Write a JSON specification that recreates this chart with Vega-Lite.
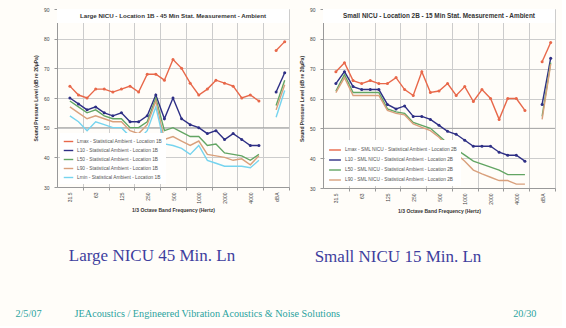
{
"$schema": "https://vega.github.io/schema/vega-lite/v6.json",
"background": "#fffdf9",
"padding": {"left": 15, "top": 7, "right": 6, "bottom": 6},
"spacing": 9,
"resolve": {"scale": {"color": "independent"}, "legend": {"color": "independent"}},
"title": {"text": "2/5/07\u00a0\u00a0\u00a0\u00a0\u00a0\u00a0\u00a0\u00a0\u00a0\u00a0\u00a0\u00a0\u00a0JEAcoustics / Engineered Vibration Acoustics & Noise Solutions\u00a0\u00a0\u00a0\u00a0\u00a0\u00a0\u00a0\u00a0\u00a0\u00a0\u00a0\u00a0\u00a0\u00a0\u00a0\u00a0\u00a0\u00a0\u00a0\u00a0\u00a0\u00a0\u00a0\u00a0\u00a0\u00a0\u00a0\u00a0\u00a0\u00a0\u00a0\u00a0\u00a0\u00a0\u00a0\u00a0\u00a0\u00a0\u00a0\u00a0\u00a0\u00a0\u00a0\u00a0\u00a0\u00a0\u00a0\u00a0\u00a0\u00a0\u00a0\u00a0\u00a0\u00a0\u00a0\u00a0\u00a0\u00a0\u00a0\u00a0\u00a0\u00a0\u00a0\u00a0\u00a0\u00a0\u00a0\u00a020/30", "orient": "bottom", "anchor": "start", "frame": "bounds", "offset": 44, "dx": -18, "font": "Liberation Serif", "fontSize": 10.2, "fontWeight": "normal", "color": "#2aa39e"},
"datasets": {
"large": [
{"series":"Lmax","kind":"band","i":0,"db":64},{"series":"Lmax","kind":"band","i":1,"db":61},{"series":"Lmax","kind":"band","i":2,"db":60},{"series":"Lmax","kind":"band","i":3,"db":63},{"series":"Lmax","kind":"band","i":4,"db":63},{"series":"Lmax","kind":"band","i":5,"db":62},{"series":"Lmax","kind":"band","i":6,"db":63},{"series":"Lmax","kind":"band","i":7,"db":64},{"series":"Lmax","kind":"band","i":8,"db":62},{"series":"Lmax","kind":"band","i":9,"db":68},{"series":"Lmax","kind":"band","i":10,"db":68},{"series":"Lmax","kind":"band","i":11,"db":66},{"series":"Lmax","kind":"band","i":12,"db":73},{"series":"Lmax","kind":"band","i":13,"db":70},{"series":"Lmax","kind":"band","i":14,"db":65},{"series":"Lmax","kind":"band","i":15,"db":61},{"series":"Lmax","kind":"band","i":16,"db":63},{"series":"Lmax","kind":"band","i":17,"db":66},{"series":"Lmax","kind":"band","i":18,"db":65},{"series":"Lmax","kind":"band","i":19,"db":64},{"series":"Lmax","kind":"band","i":20,"db":60},{"series":"Lmax","kind":"band","i":21,"db":61},{"series":"Lmax","kind":"band","i":22,"db":59},{"series":"Lmax","kind":"overall","i":24,"db":76},{"series":"Lmax","kind":"overall","i":25,"db":79},
{"series":"L10","kind":"band","i":0,"db":60},{"series":"L10","kind":"band","i":1,"db":58},{"series":"L10","kind":"band","i":2,"db":56},{"series":"L10","kind":"band","i":3,"db":57},{"series":"L10","kind":"band","i":4,"db":55},{"series":"L10","kind":"band","i":5,"db":54},{"series":"L10","kind":"band","i":6,"db":55},{"series":"L10","kind":"band","i":7,"db":52},{"series":"L10","kind":"band","i":8,"db":52},{"series":"L10","kind":"band","i":9,"db":54},{"series":"L10","kind":"band","i":10,"db":61},{"series":"L10","kind":"band","i":11,"db":53},{"series":"L10","kind":"band","i":12,"db":60},{"series":"L10","kind":"band","i":13,"db":53},{"series":"L10","kind":"band","i":14,"db":51},{"series":"L10","kind":"band","i":15,"db":50},{"series":"L10","kind":"band","i":16,"db":48},{"series":"L10","kind":"band","i":17,"db":49},{"series":"L10","kind":"band","i":18,"db":46},{"series":"L10","kind":"band","i":19,"db":48},{"series":"L10","kind":"band","i":20,"db":46},{"series":"L10","kind":"band","i":21,"db":44},{"series":"L10","kind":"band","i":22,"db":44},{"series":"L10","kind":"overall","i":24,"db":62},{"series":"L10","kind":"overall","i":25,"db":68.5},
{"series":"L50","kind":"band","i":0,"db":59},{"series":"L50","kind":"band","i":1,"db":57},{"series":"L50","kind":"band","i":2,"db":55},{"series":"L50","kind":"band","i":3,"db":56},{"series":"L50","kind":"band","i":4,"db":54},{"series":"L50","kind":"band","i":5,"db":53},{"series":"L50","kind":"band","i":6,"db":53},{"series":"L50","kind":"band","i":7,"db":50},{"series":"L50","kind":"band","i":8,"db":50},{"series":"L50","kind":"band","i":9,"db":52},{"series":"L50","kind":"band","i":10,"db":60},{"series":"L50","kind":"band","i":11,"db":49},{"series":"L50","kind":"band","i":12,"db":50},{"series":"L50","kind":"band","i":13,"db":48.5},{"series":"L50","kind":"band","i":14,"db":47},{"series":"L50","kind":"band","i":15,"db":47},{"series":"L50","kind":"band","i":16,"db":44},{"series":"L50","kind":"band","i":17,"db":44.5},{"series":"L50","kind":"band","i":18,"db":41.5},{"series":"L50","kind":"band","i":19,"db":41},{"series":"L50","kind":"band","i":20,"db":40.5},{"series":"L50","kind":"band","i":21,"db":39},{"series":"L50","kind":"band","i":22,"db":41},{"series":"L50","kind":"overall","i":24,"db":57.5},{"series":"L50","kind":"overall","i":25,"db":66},
{"series":"L90","kind":"band","i":0,"db":57},{"series":"L90","kind":"band","i":1,"db":55},{"series":"L90","kind":"band","i":2,"db":53},{"series":"L90","kind":"band","i":3,"db":54},{"series":"L90","kind":"band","i":4,"db":53},{"series":"L90","kind":"band","i":5,"db":52},{"series":"L90","kind":"band","i":6,"db":52},{"series":"L90","kind":"band","i":7,"db":49},{"series":"L90","kind":"band","i":8,"db":48},{"series":"L90","kind":"band","i":9,"db":51},{"series":"L90","kind":"band","i":10,"db":59},{"series":"L90","kind":"band","i":11,"db":46},{"series":"L90","kind":"band","i":12,"db":47},{"series":"L90","kind":"band","i":13,"db":45.5},{"series":"L90","kind":"band","i":14,"db":44},{"series":"L90","kind":"band","i":15,"db":45.5},{"series":"L90","kind":"band","i":16,"db":41},{"series":"L90","kind":"band","i":17,"db":40.5},{"series":"L90","kind":"band","i":18,"db":40},{"series":"L90","kind":"band","i":19,"db":39},{"series":"L90","kind":"band","i":20,"db":39.5},{"series":"L90","kind":"band","i":21,"db":37.5},{"series":"L90","kind":"band","i":22,"db":40.5},{"series":"L90","kind":"overall","i":24,"db":56},{"series":"L90","kind":"overall","i":25,"db":64.5},
{"series":"Lmin","kind":"band","i":0,"db":54},{"series":"Lmin","kind":"band","i":1,"db":52},{"series":"Lmin","kind":"band","i":2,"db":49},{"series":"Lmin","kind":"band","i":3,"db":52},{"series":"Lmin","kind":"band","i":4,"db":51},{"series":"Lmin","kind":"band","i":5,"db":50},{"series":"Lmin","kind":"band","i":6,"db":50},{"series":"Lmin","kind":"band","i":7,"db":47},{"series":"Lmin","kind":"band","i":8,"db":46},{"series":"Lmin","kind":"band","i":9,"db":49},{"series":"Lmin","kind":"band","i":10,"db":57},{"series":"Lmin","kind":"band","i":11,"db":44.5},{"series":"Lmin","kind":"band","i":12,"db":44},{"series":"Lmin","kind":"band","i":13,"db":43},{"series":"Lmin","kind":"band","i":14,"db":41},{"series":"Lmin","kind":"band","i":15,"db":44},{"series":"Lmin","kind":"band","i":16,"db":39},{"series":"Lmin","kind":"band","i":17,"db":38},{"series":"Lmin","kind":"band","i":18,"db":37},{"series":"Lmin","kind":"band","i":19,"db":37},{"series":"Lmin","kind":"band","i":20,"db":37},{"series":"Lmin","kind":"band","i":21,"db":36.5},{"series":"Lmin","kind":"band","i":22,"db":39},{"series":"Lmin","kind":"overall","i":24,"db":53.5},{"series":"Lmin","kind":"overall","i":25,"db":62.5}
],
"small": [
{"series":"Lmax","kind":"band","i":0,"db":69},{"series":"Lmax","kind":"band","i":1,"db":72},{"series":"Lmax","kind":"band","i":2,"db":66},{"series":"Lmax","kind":"band","i":3,"db":65},{"series":"Lmax","kind":"band","i":4,"db":66},{"series":"Lmax","kind":"band","i":5,"db":65},{"series":"Lmax","kind":"band","i":6,"db":65},{"series":"Lmax","kind":"band","i":7,"db":67},{"series":"Lmax","kind":"band","i":8,"db":63},{"series":"Lmax","kind":"band","i":9,"db":61},{"series":"Lmax","kind":"band","i":10,"db":69},{"series":"Lmax","kind":"band","i":11,"db":62},{"series":"Lmax","kind":"band","i":12,"db":62.5},{"series":"Lmax","kind":"band","i":13,"db":65},{"series":"Lmax","kind":"band","i":14,"db":61},{"series":"Lmax","kind":"band","i":15,"db":64},{"series":"Lmax","kind":"band","i":16,"db":59},{"series":"Lmax","kind":"band","i":17,"db":63},{"series":"Lmax","kind":"band","i":18,"db":60},{"series":"Lmax","kind":"band","i":19,"db":53},{"series":"Lmax","kind":"band","i":20,"db":60},{"series":"Lmax","kind":"band","i":21,"db":60},{"series":"Lmax","kind":"band","i":22,"db":56},{"series":"Lmax","kind":"overall","i":24,"db":72.3},{"series":"Lmax","kind":"overall","i":25,"db":78.8},
{"series":"L10","kind":"band","i":0,"db":65},{"series":"L10","kind":"band","i":1,"db":69},{"series":"L10","kind":"band","i":2,"db":64},{"series":"L10","kind":"band","i":3,"db":63},{"series":"L10","kind":"band","i":4,"db":63},{"series":"L10","kind":"band","i":5,"db":63},{"series":"L10","kind":"band","i":6,"db":58},{"series":"L10","kind":"band","i":7,"db":56.5},{"series":"L10","kind":"band","i":8,"db":57.5},{"series":"L10","kind":"band","i":9,"db":54},{"series":"L10","kind":"band","i":10,"db":54},{"series":"L10","kind":"band","i":11,"db":53},{"series":"L10","kind":"band","i":12,"db":51},{"series":"L10","kind":"band","i":13,"db":49},{"series":"L10","kind":"band","i":14,"db":48},{"series":"L10","kind":"band","i":15,"db":46},{"series":"L10","kind":"band","i":16,"db":44},{"series":"L10","kind":"band","i":17,"db":44},{"series":"L10","kind":"band","i":18,"db":44},{"series":"L10","kind":"band","i":19,"db":42},{"series":"L10","kind":"band","i":20,"db":41},{"series":"L10","kind":"band","i":21,"db":41},{"series":"L10","kind":"band","i":22,"db":39},{"series":"L10","kind":"overall","i":24,"db":58},{"series":"L10","kind":"overall","i":25,"db":73.5},
{"series":"L50","kind":"band","i":0,"db":62.5},{"series":"L50","kind":"band","i":1,"db":68},{"series":"L50","kind":"band","i":2,"db":62},{"series":"L50","kind":"band","i":3,"db":62},{"series":"L50","kind":"band","i":4,"db":62},{"series":"L50","kind":"band","i":5,"db":62},{"series":"L50","kind":"band","i":6,"db":56.5},{"series":"L50","kind":"band","i":7,"db":55.5},{"series":"L50","kind":"band","i":8,"db":55},{"series":"L50","kind":"band","i":9,"db":52},{"series":"L50","kind":"band","i":10,"db":51},{"series":"L50","kind":"band","i":11,"db":50},{"series":"L50","kind":"band","i":12,"db":47.5},{"series":"L50","kind":"band","i":13,"db":45},{"series":"L50","kind":"band","i":14,"db":43},{"series":"L50","kind":"band","i":15,"db":41},{"series":"L50","kind":"band","i":16,"db":39},{"series":"L50","kind":"band","i":17,"db":38},{"series":"L50","kind":"band","i":18,"db":37},{"series":"L50","kind":"band","i":19,"db":36},{"series":"L50","kind":"band","i":20,"db":34.5},{"series":"L50","kind":"band","i":21,"db":34.5},{"series":"L50","kind":"band","i":22,"db":34.5},{"series":"L50","kind":"overall","i":24,"db":54},{"series":"L50","kind":"overall","i":25,"db":72},
{"series":"L90","kind":"band","i":0,"db":62},{"series":"L90","kind":"band","i":1,"db":67},{"series":"L90","kind":"band","i":2,"db":61},{"series":"L90","kind":"band","i":3,"db":61},{"series":"L90","kind":"band","i":4,"db":61},{"series":"L90","kind":"band","i":5,"db":61},{"series":"L90","kind":"band","i":6,"db":56},{"series":"L90","kind":"band","i":7,"db":55},{"series":"L90","kind":"band","i":8,"db":54.5},{"series":"L90","kind":"band","i":9,"db":51.5},{"series":"L90","kind":"band","i":10,"db":50.3},{"series":"L90","kind":"band","i":11,"db":49.2},{"series":"L90","kind":"band","i":12,"db":47},{"series":"L90","kind":"band","i":13,"db":44},{"series":"L90","kind":"band","i":14,"db":41.5},{"series":"L90","kind":"band","i":15,"db":39},{"series":"L90","kind":"band","i":16,"db":36},{"series":"L90","kind":"band","i":17,"db":34.7},{"series":"L90","kind":"band","i":18,"db":33.6},{"series":"L90","kind":"band","i":19,"db":32.5},{"series":"L90","kind":"band","i":20,"db":32.5},{"series":"L90","kind":"band","i":21,"db":31.3},{"series":"L90","kind":"band","i":22,"db":31.3},{"series":"L90","kind":"overall","i":24,"db":53},{"series":"L90","kind":"overall","i":25,"db":71.5}
]
},
"hconcat": [
{
"width": 232, "height": 178,
"title": {"text": "Large NICU 45 Min. Ln", "orient": "bottom", "anchor": "middle", "frame": "group", "dx": -21, "offset": 36, "font": "Liberation Serif", "fontSize": 17, "fontWeight": "normal", "color": "#3e3e9e"},
"layer": [
{"data": {"values": [{}]}, "mark": {"type": "rect", "fill": "white"}, "encoding": {"x": {"datum": -1.5, "type": "quantitative"}, "x2": {"datum": 25.5}, "y": {"datum": 90, "type": "quantitative"}, "y2": {"datum": 85.3}}},
{"data": {"values": [{}]}, "mark": {"type": "rule", "color": "#9a9a9a", "strokeWidth": 0.8}, "encoding": {"y": {"datum": 50, "type": "quantitative"}}},
{"data": {"name": "large"}, "mark": {"type": "line", "strokeWidth": 1.4},
 "encoding": {
  "x": {"field": "i", "type": "quantitative", "scale": {"domain": [-1.5, 25.5], "nice": false, "zero": false},
        "axis": {"values": [0,3,6,9,12,15,18,21,24], "tickCount": 40, "labelExpr": "datum.value == 0 ? '31.5' : datum.value == 3 ? '63' : datum.value == 6 ? '125' : datum.value == 9 ? '250' : datum.value == 12 ? '500' : datum.value == 15 ? '1000' : datum.value == 18 ? '2000' : datum.value == 21 ? '4000' : 'dBA'", "labelAngle": -90, "labelAlign": "right", "labelBaseline": "middle", "labelOverlap": false, "tickOffset": 12.9, "labelOffset": -12.9, "title": "1/3 Octave Band Frequency (Hertz)", "grid": true}},
  "y": {"field": "db", "type": "quantitative", "scale": {"domain": [30, 90], "nice": false, "zero": false},
        "axis": {"values": [30,40,50,60,70,80,90], "tickCount": 40, "title": "Sound Pressure Level (dB re 20μPa)", "grid": true, "labelPadding": 5, "titlePadding": 5}},
  "color": {"field": "series", "type": "nominal", "scale": {"domain": ["Lmax","L10","L50","L90","Lmin"], "range": ["#e8684a","#2e2f85","#62a563","#d9a07c","#76d4ef"]},
            "legend": {"orient": "bottom-left", "offset": 3, "title": null, "labelExpr": "datum.label + ' - Statistical Ambient - Location 1B'", "symbolSize": 90}},
  "detail": {"field": "kind"}
 }},
{"data": {"name": "large"}, "transform": [{"filter": {"field": "series", "oneOf": ["Lmax", "L10"]}}], "mark": {"type": "point", "filled": true, "size": 9, "opacity": 1},
 "encoding": {"x": {"field": "i", "type": "quantitative"}, "y": {"field": "db", "type": "quantitative"}, "color": {"field": "series", "type": "nominal"}}},
{"data": {"values": [{}]}, "mark": {"type": "text", "text": "Large NICU - Location 1B - 45 Min Stat. Measurement - Ambient", "font": "Liberation Sans", "fontSize": 6.2, "fontWeight": "bold", "color": "#333333"}, "encoding": {"x": {"datum": 12, "type": "quantitative"}, "y": {"datum": 87.7, "type": "quantitative"}}}
]
},
{
"width": 232, "height": 179,
"title": {"text": "Small NICU 15 Min. Ln", "orient": "bottom", "anchor": "middle", "frame": "group", "dx": -41, "offset": 36, "font": "Liberation Serif", "fontSize": 17, "fontWeight": "normal", "color": "#3e3e9e"},
"layer": [
{"data": {"values": [{}]}, "mark": {"type": "rect", "fill": "white"}, "encoding": {"x": {"datum": -1.5, "type": "quantitative"}, "x2": {"datum": 25.5}, "y": {"datum": 90, "type": "quantitative"}, "y2": {"datum": 85.3}}},
{"data": {"values": [{}]}, "mark": {"type": "rule", "color": "#9a9a9a", "strokeWidth": 0.8}, "encoding": {"y": {"datum": 50, "type": "quantitative"}}},
{"data": {"name": "small"}, "mark": {"type": "line", "strokeWidth": 1.4},
 "encoding": {
  "x": {"field": "i", "type": "quantitative", "scale": {"domain": [-1.5, 25.5], "nice": false, "zero": false},
        "axis": {"values": [0,3,6,9,12,15,18,21,24], "tickCount": 40, "labelExpr": "datum.value == 0 ? '31.5' : datum.value == 3 ? '63' : datum.value == 6 ? '125' : datum.value == 9 ? '250' : datum.value == 12 ? '500' : datum.value == 15 ? '1000' : datum.value == 18 ? '2000' : datum.value == 21 ? '4000' : 'dBA'", "labelAngle": -90, "labelAlign": "right", "labelBaseline": "middle", "labelOverlap": false, "tickOffset": 12.9, "labelOffset": -12.9, "title": "1/3 Octave Band Frequency (Hertz)", "grid": true}},
  "y": {"field": "db", "type": "quantitative", "scale": {"domain": [30, 90], "nice": false, "zero": false},
        "axis": {"values": [30,40,50,60,70,80,90], "tickCount": 40, "title": "Sound Pressure Level (dB re 20μPa)", "grid": true, "labelPadding": 5, "titlePadding": 5}},
  "color": {"field": "series", "type": "nominal", "scale": {"domain": ["Lmax","L10","L50","L90"], "range": ["#e8684a","#2e2f85","#62a563","#d9a07c"]},
            "legend": {"orient": "bottom-left", "offset": 2, "title": null, "labelExpr": "datum.label + ' - SML NICU - Statistical Ambient - Location 2B'", "symbolSize": 140}},
  "detail": {"field": "kind"}
 }},
{"data": {"name": "small"}, "transform": [{"filter": {"field": "series", "oneOf": ["Lmax", "L10"]}}], "mark": {"type": "point", "filled": true, "size": 9, "opacity": 1},
 "encoding": {"x": {"field": "i", "type": "quantitative"}, "y": {"field": "db", "type": "quantitative"}, "color": {"field": "series", "type": "nominal"}}},
{"data": {"values": [{}]}, "mark": {"type": "text", "text": "Small NICU - Location 2B - 15 Min Stat. Measurement - Ambient", "font": "Liberation Sans", "fontSize": 6.4, "fontWeight": "bold", "color": "#333333"}, "encoding": {"x": {"datum": 12, "type": "quantitative"}, "y": {"datum": 87.7, "type": "quantitative"}}}
]
}
],
"config": {
 "font": "Liberation Sans",
 "view": {"stroke": null},
 "axis": {"labelFont": "Liberation Sans", "labelFontSize": 5, "labelColor": "#444444", "labelPadding": 2, "labelOverlap": false, "titleFont": "Liberation Sans", "titleFontSize": 5, "titleFontWeight": "bold", "titleColor": "#333333", "titlePadding": 4, "gridColor": "#cccccc", "gridWidth": 1, "domainColor": "#999999", "tickColor": "#999999", "tickSize": 3},
 "legend": {"fillColor": "white", "padding": 3, "symbolType": "stroke", "symbolStrokeWidth": 1.4, "labelFontSize": 4.8, "labelColor": "#555555", "labelLimit": 250, "rowPadding": 0, "labelOffset": 3}
}
}
